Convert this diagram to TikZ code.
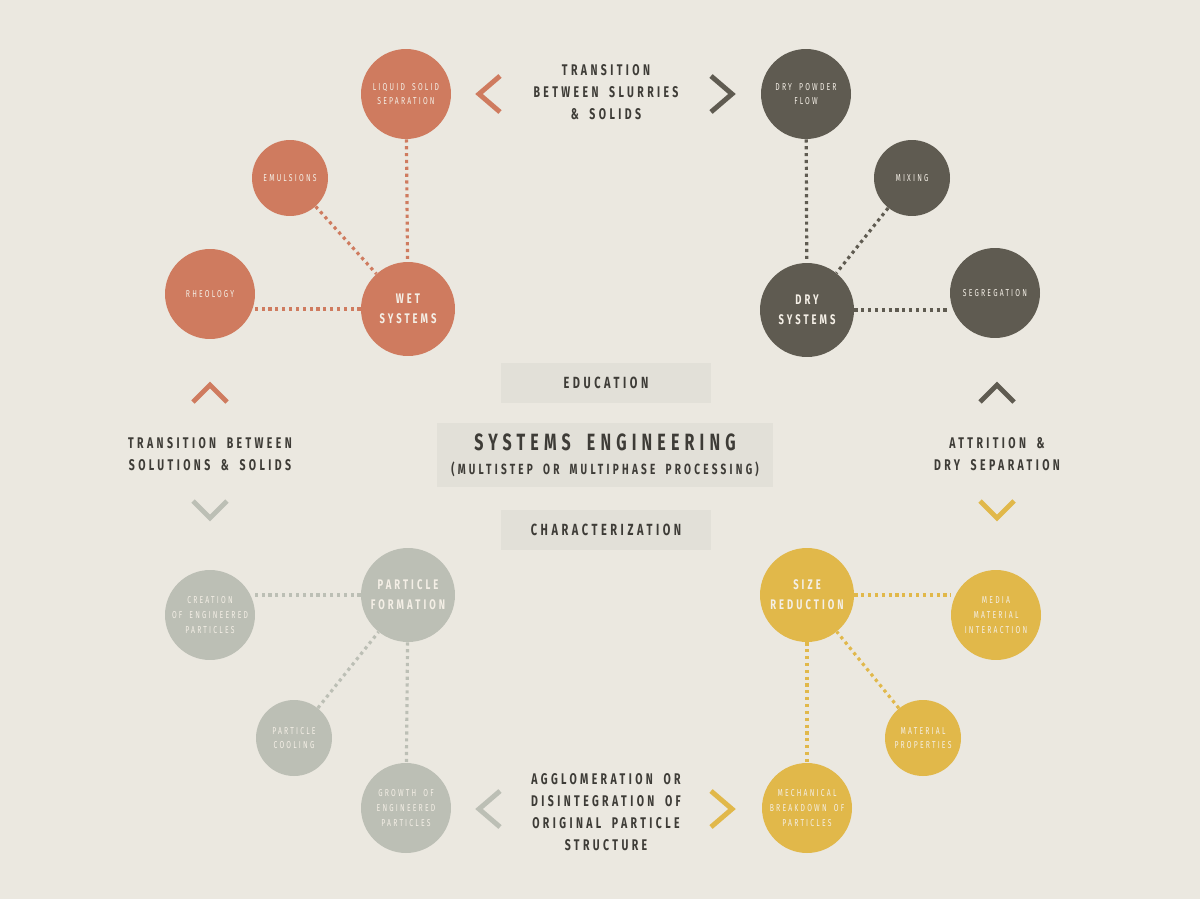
\documentclass[tikz,border=0pt]{standalone}
\usepackage{fontspec}
\setmainfont{Fira Sans}
\newfontfamily\bebas[FakeStretch=0.68,LetterSpace=22,WordSpace=1.8]{Fira Sans}
\usetikzlibrary{calc}
\definecolor{paper}{HTML}{EBE8E0}
\definecolor{boxgray}{HTML}{E2E0D8}
\definecolor{ink}{HTML}{3E3C37}
\definecolor{cream}{HTML}{F4EFE6}
\definecolor{wetc}{HTML}{CF7B5F}
\definecolor{dryc}{HTML}{5F5B51}
\definecolor{formc}{HTML}{BCBFB5}
\definecolor{sizec}{HTML}{E1B84A}
\tikzset{
	bubble/.style={circle, fill=#1, text=cream, align=center, inner sep=0pt, minimum size=1.8cm, font=\bebas\fontsize{5.7}{8.4}\selectfont},
	smallbubble/.style={bubble=#1, minimum size=1.52cm},
	hub/.style={bubble=#1, minimum size=1.88cm, font=\bebas\bfseries\fontsize{7.9}{11.3}\selectfont},
	link/.style={draw=#1, line width=1.8pt, dash pattern=on 1.8pt off 2.1pt},
	chev/.style={draw=#1, line width=2.8pt, miter limit=10},
	caption/.style={text=ink, align=center, font=\bebas\bfseries\fontsize{8.8}{12.5}\selectfont},
	band/.style={fill=boxgray, text=ink, minimum width=4.2cm, minimum height=0.8cm, font=\bebas\bfseries\fontsize{9.2}{12}\selectfont}
}
\begin{document}
\begin{tikzpicture}[x=0.02cm, y=-0.02cm]
				\fill[paper] (0,0) rectangle (1200,899);
				\useasboundingbox (0,0) rectangle (1200,899);
				
				% wet systems
				\node[hub=wetc] (wet) at (408,309) {WET\\SYSTEMS};
				\node[bubble=wetc] (liquid) at (406,94) {LIQUID SOLID\\SEPARATION};
				\node[smallbubble=wetc] (emuls) at (290,178) {EMULSIONS};
				\node[bubble=wetc] (rheo) at (210,294) {RHEOLOGY};
				\draw[link=wetc] (liquid) -- (wet);
				\draw[link=wetc] (emuls) -- (wet);
				\draw[link=wetc] (wet.west) -- (rheo.east |- wet.west);
				
				% dry systems
				\node[hub=dryc] (dry) at (807,310) {DRY\\SYSTEMS};
				\node[bubble=dryc] (powder) at (806,94) {DRY POWDER\\FLOW};
				\node[smallbubble=dryc] (mixing) at (912,178) {MIXING};
				\node[bubble=dryc] (segreg) at (995,293) {SEGREGATION};
				\draw[link=dryc] (powder) -- (dry);
				\draw[link=dryc] (mixing) -- (dry);
				\draw[link=dryc] (dry.east) -- (segreg.west |- dry.east);
				
				% particle formation
				\node[hub=formc] (form) at (408,595) {PARTICLE\\FORMATION};
				\node[bubble=formc] (creation) at (210,615) {CREATION\\OF ENGINEERED\\PARTICLES};
				\node[smallbubble=formc] (cooling) at (294,738) {PARTICLE\\COOLING};
				\node[bubble=formc] (growth) at (406,808) {GROWTH OF\\ENGINEERED\\PARTICLES};
				\draw[link=formc] (form.west) -- (creation.east |- form.west);
				\draw[link=formc] (cooling) -- (form);
				\draw[link=formc] (form) -- (growth);
				
				% size reduction
				\node[hub=sizec] (size) at (807,595) {SIZE\\REDUCTION};
				\node[bubble=sizec] (media) at (996,615) {MEDIA\\MATERIAL\\INTERACTION};
				\node[smallbubble=sizec] (matprop) at (923,738) {MATERIAL\\PROPERTIES};
				\node[bubble=sizec] (mechan) at (807,808) {MECHANICAL\\BREAKDOWN OF\\PARTICLES};
				\draw[link=sizec] (size.east) -- (media.west |- size.east);
				\draw[link=sizec] (matprop) -- (size);
				\draw[link=sizec] (size) -- (mechan);
				
				% centre
				\node[band] (educ) at (606,383) {EDUCATION};
				\node[band, minimum width=6.72cm, minimum height=1.3cm] (syseng) at (605,455) {};
				\node[text=ink, font=\bebas\bfseries\fontsize{13.4}{15}\selectfont] (systitle) at (605,442) {SYSTEMS ENGINEERING};
				\node[text=ink, font=\bebas\bfseries\fontsize{8.4}{10}\selectfont] (syssub) at (605,469) {(MULTISTEP OR MULTIPHASE PROCESSING)};
				\node[band] (charac) at (606,530) {CHARACTERIZATION};
				
				% transitions
				\node[caption] (slurry) at (606,92) {TRANSITION\\BETWEEN SLURRIES\\\& SOLIDS};
				\node[caption] (solution) at (210,454) {TRANSITION BETWEEN\\SOLUTIONS \& SOLIDS};
				\node[caption] (attrition) at (997,454) {ATTRITION \&\\DRY SEPARATION};
				\node[caption] (agglom) at (606,812) {AGGLOMERATION OR\\DISINTEGRATION OF\\ORIGINAL PARTICLE\\STRUCTURE};
				
				\draw[chev=wetc] (500,76) -- (479,94) -- (500,112);
				\draw[chev=dryc] (711,76) -- (732,94) -- (711,112);
				\draw[chev=wetc] (193,402) -- (210,385) -- (227,402);
				\draw[chev=formc] (193,501) -- (210,518) -- (227,501);
				\draw[chev=dryc] (980,402) -- (997,385) -- (1014,402);
				\draw[chev=sizec] (980,501) -- (997,518) -- (1014,501);
				\draw[chev=formc] (500,791) -- (479,809) -- (500,827);
				\draw[chev=sizec] (711,791) -- (732,809) -- (711,827);
			\end{tikzpicture}
\end{document}
